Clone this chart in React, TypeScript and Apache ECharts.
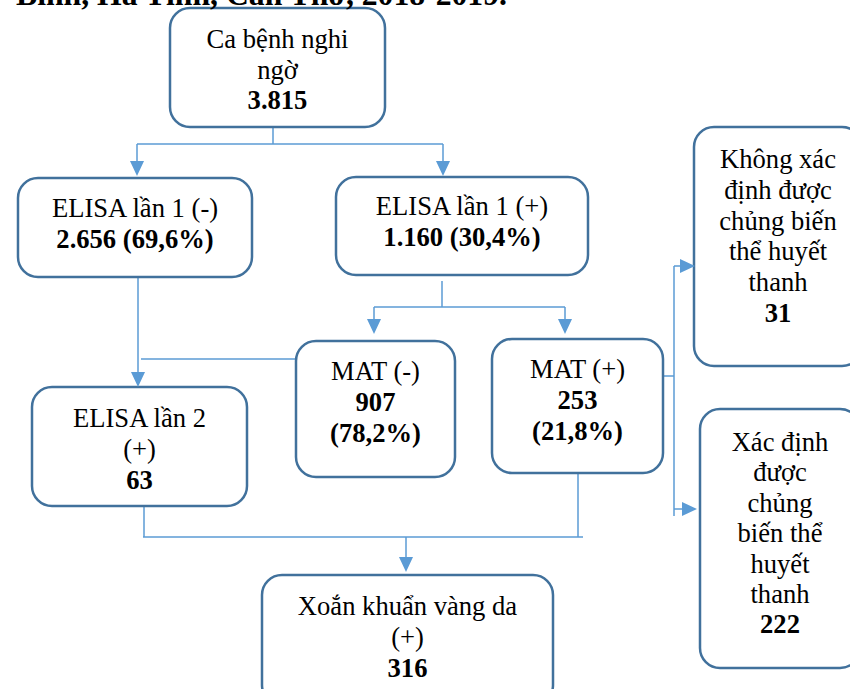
import React, { useEffect, useRef } from "react";
import * as echarts from "echarts";

// ---------- data ----------
const titleText = "Bình, Hà Tĩnh, Cần Thơ, 2018-2019.";

const nodeLabelLines: string[][] = [
  ["Ca bệnh nghi", "ngờ"],
  ["ELISA lần 1 (-)"],
  ["ELISA lần 1 (+)"],
  ["MAT (-)"],
  ["MAT (+)"],
  ["ELISA lần 2", "(+)"],
  ["Xoắn khuẩn vàng da", "(+)"],
  ["Không xác", "định được", "chủng biến", "thể huyết", "thanh"],
  ["Xác định", "được", "chủng", "biến thể", "huyết", "thanh"],
];
const nodeCounts = ["3.815", "2.656", "1.160", "907", "253", "63", "316", "31", "222"];
const nodePercents = ["", "69,6%", "30,4%", "78,2%", "21,8%", "", "", "", ""];

// ---------- layout ----------
const boxes = [
  { x: 170, y: 8, w: 215, h: 119, base: 48, step: 30.5, split: false },
  { x: 18, y: 178, w: 234, h: 99, base: 217, step: 31, split: false },
  { x: 336, y: 177, w: 252, h: 98, base: 215, step: 31, split: false },
  { x: 296, y: 341, w: 159, h: 136, base: 380, step: 31, split: true },
  { x: 492, y: 339, w: 171, h: 134, base: 378, step: 31, split: true },
  { x: 32, y: 387, w: 215, h: 119, base: 427, step: 31, split: false },
  { x: 262, y: 575, w: 291, h: 130, base: 615, step: 31, split: false },
  { x: 694, y: 127, w: 168, h: 239, base: 168, step: 30.8, split: false },
  { x: 700, y: 409, w: 160, h: 259, base: 451, step: 30.4, split: false },
];

const segs: number[][] = [
  [273, 127, 273, 144],
  [137, 144, 443, 144],
  [137, 144, 137, 162],
  [443, 144, 443, 162],
  [442, 281, 442, 307],
  [374, 307, 565, 307],
  [374, 307, 374, 320],
  [565, 307, 565, 320],
  [138, 277, 138, 375],
  [141, 359, 296, 359],
  [663, 376, 674, 376],
  [674, 266, 674, 516],
  [674, 266, 684, 266],
  [674, 509, 684, 509],
  [144, 506, 144, 537],
  [578, 473, 578, 537],
  [143, 537, 583, 537],
  [406, 537, 406, 558],
];

// arrow: tip x, tip y, direction
const arrows: [number, number, string][] = [
  [137, 176, "down"],
  [443, 176, "down"],
  [374, 334, "down"],
  [565, 334, "down"],
  [138, 387, "down"],
  [695, 266, "right"],
  [697, 509, "right"],
  [406, 572, "down"],
];

const FONT = "Liberation Serif, Times New Roman, serif";
const FS = 26.6;
const BOX_COLOR = "#41719C";
const LINE_COLOR = "#5B9BD5";

function textEl(text: string, x: number, baseline: number, bold: boolean, size = FS) {
  return {
    type: "text",
    x,
    y: baseline - 0.3375 * size,
    z: 10,
    style: {
      text,
      fill: "#000",
      fontSize: size,
      fontFamily: FONT,
      fontWeight: bold ? "bold" : "normal",
      align: "center",
      verticalAlign: "middle",
    },
  };
}

export default function App() {
  const ref = useRef<HTMLDivElement>(null);

  useEffect(() => {
    if (!ref.current) return;
    const chart = echarts.init(ref.current, undefined, { renderer: "svg" });
    const elements: any[] = [];

    segs.forEach(([x1, y1, x2, y2]) => {
      elements.push({
        type: "line",
        z: 1,
        shape: { x1, y1, x2, y2 },
        style: { stroke: LINE_COLOR, lineWidth: 1.5 },
      });
    });

    arrows.forEach(([tx, ty, dir]) => {
      const L = 15;
      const hw = 7;
      const points =
        dir === "down"
          ? [[tx - hw, ty - L], [tx + hw, ty - L], [tx, ty]]
          : [[tx - L, ty - hw], [tx - L, ty + hw], [tx, ty]];
      elements.push({
        type: "polygon",
        z: 6,
        shape: { points },
        style: { fill: LINE_COLOR },
      });
    });

    boxes.forEach((b, i) => {
      elements.push({
        type: "rect",
        z: 5,
        shape: { x: b.x, y: b.y, width: b.w, height: b.h, r: 20 },
        style: { fill: "#fff", stroke: BOX_COLOR, lineWidth: 2.5 },
      });
      const cx = b.x + b.w / 2;
      const lines: { t: string; bold: boolean }[] = nodeLabelLines[i].map((t) => ({ t, bold: false }));
      const pct = nodePercents[i];
      if (pct) {
        if (b.split) {
          lines.push({ t: nodeCounts[i], bold: true });
          lines.push({ t: "(" + pct + ")", bold: true });
        } else {
          lines.push({ t: nodeCounts[i] + " (" + pct + ")", bold: true });
        }
      } else {
        lines.push({ t: nodeCounts[i], bold: true });
      }
      lines.forEach((ln, k) => {
        elements.push(textEl(ln.t, cx, b.base + k * b.step, ln.bold));
      });
    });

    elements.push({
      type: "text",
      x: 16,
      y: 5 - 0.3375 * 31.7,
      z: 10,
      style: {
        text: titleText,
        fill: "#000",
        fontSize: 31.7,
        fontFamily: FONT,
        fontWeight: "bold",
        align: "left",
        verticalAlign: "middle",
      },
    });

    chart.setOption({
      animation: false,
      backgroundColor: "#ffffff",
      graphic: { elements },
    });
    return () => chart.dispose();
  }, []);

  return (
    <div
      ref={ref}
      style={{ position: "fixed", left: 0, top: 0, width: 850, height: 689, background: "#fff" }}
    />
  );
}
